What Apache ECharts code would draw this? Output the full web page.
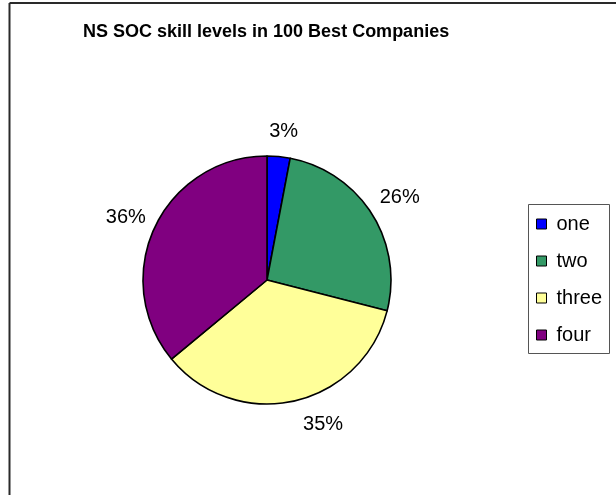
<!DOCTYPE html>
<html>
<head>
<meta charset="utf-8">
<script src="https://cdn.jsdelivr.net/npm/echarts@6/dist/echarts.min.js"></script>
<style>
  html, body { margin: 0; padding: 0; background: #fff; }
  #chart { width: 616px; height: 495px; }
</style>
</head>
<body>
<div id="chart"></div>
<script>
// Skill levels and their shares (percent)
const categories = ['one', 'two', 'three', 'four'];
const shares = [3, 26, 35, 36];
const sliceColors = ['#0000FF', '#339966', '#FFFF99', '#800080'];
const titleText = 'NS SOC skill levels in 100 Best Companies';

const FONT = '"Liberation Sans", Arial, sans-serif';
const CENTER = [267, 280];
const RADIUS = 124;

// Small nudges so each percentage sits snugly against its slice
const labelNudge = { one: [2, 7], two: [1, 1], three: [22, -8], four: [0, 4] };

const pieData = categories.map((name, i) => ({
  name,
  value: shares[i],
  itemStyle: { color: sliceColors[i] }
}));

// Transparent ring that carries the percentage labels just outside the pie
const labelData = categories.map((name, i) => ({
  name,
  value: shares[i],
  label: { offset: labelNudge[name] }
}));

const chart = echarts.init(document.getElementById('chart'), null, { renderer: 'canvas' });
chart.setOption({
  animation: false,
  backgroundColor: '#ffffff',
  title: {
    text: titleText,
    left: 78,
    top: 18,
    textStyle: { fontFamily: FONT, fontSize: 18, fontWeight: 'bold', color: '#000' }
  },
  legend: {
    orient: 'vertical',
    left: 536,
    top: 214,
    padding: 0,
    itemWidth: 10,
    itemHeight: 10,
    itemGap: 17,
    icon: 'rect',
    selectedMode: false,
    data: categories,
    itemStyle: { borderColor: '#000', borderWidth: 1 },
    textStyle: { fontFamily: FONT, fontSize: 20, lineHeight: 20, color: '#000', padding: [0, 0, 0, 5] }
  },
  graphic: [
    {
      type: 'line', silent: true,
      shape: { x1: 9.5, y1: 3, x2: 616, y2: 3 },
      style: { stroke: '#2a2a2a', lineWidth: 2 }
    },
    {
      type: 'line', silent: true,
      shape: { x1: 9.5, y1: 3, x2: 9.5, y2: 495 },
      style: { stroke: '#2a2a2a', lineWidth: 2 }
    },
    {
      type: 'rect', silent: true, z: -1,
      shape: { x: 528.5, y: 204.5, width: 81, height: 149 },
      style: { fill: '#fff', stroke: '#555', lineWidth: 1 }
    }
  ],
  series: [
    {
      type: 'pie',
      center: CENTER,
      radius: RADIUS,
      startAngle: 90,
      clockwise: true,
      silent: true,
      avoidLabelOverlap: false,
      label: { show: false },
      labelLine: { show: false },
      itemStyle: { borderColor: '#000', borderWidth: 1.6 },
      data: pieData
    },
    {
      type: 'pie',
      center: CENTER,
      radius: [140, 166],
      startAngle: 90,
      clockwise: true,
      silent: true,
      avoidLabelOverlap: false,
      itemStyle: { color: 'rgba(0,0,0,0)', borderWidth: 0 },
      labelLine: { show: false },
      label: {
        show: true,
        position: 'inside',
        formatter: p => p.value + '%',
        fontFamily: FONT,
        fontSize: 20,
        color: '#000'
      },
      data: labelData
    }
  ]
});
</script>
</body>
</html>
